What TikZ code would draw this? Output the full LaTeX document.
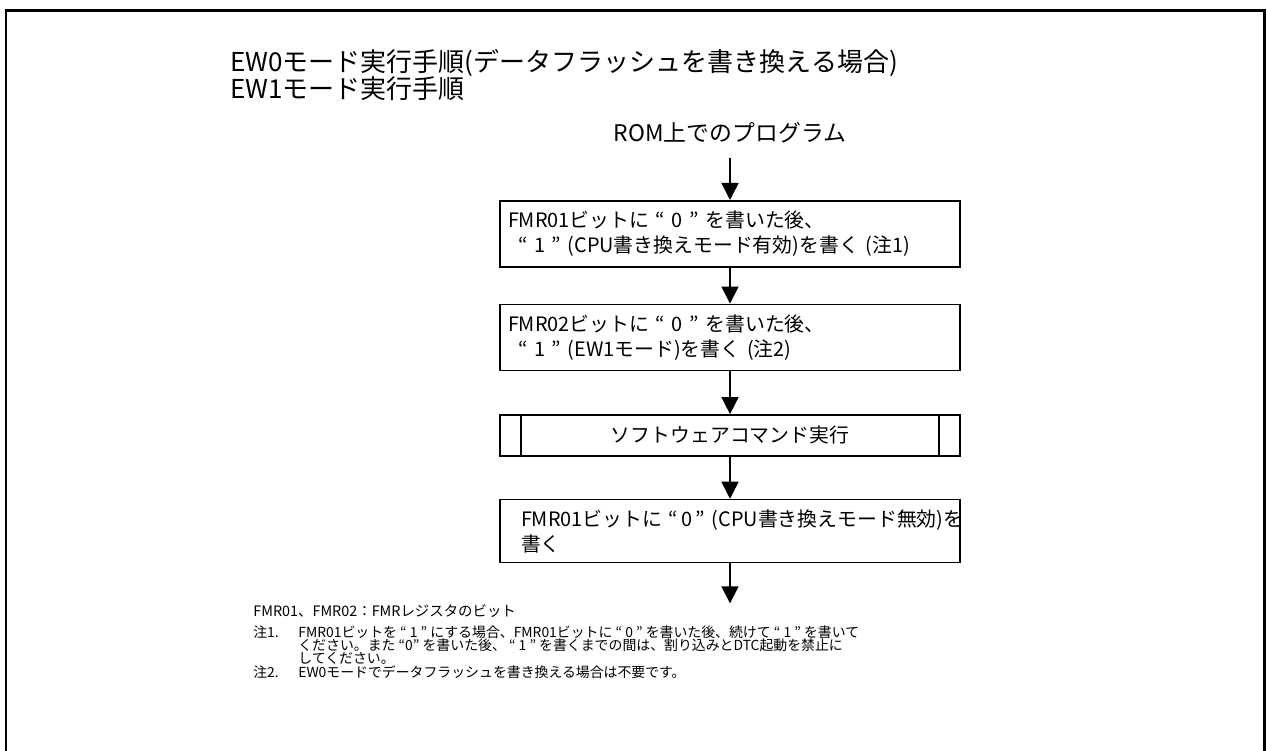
\documentclass[tikz,border=0pt]{standalone}
\usepackage{fontspec}
\setmainfont{Noto Sans CJK JP}
\usetikzlibrary{arrows.meta, positioning}
\tikzset{
    box/.style={draw, line width=0.9pt, fill=white, align=left, text width=8.88cm, inner xsep=0.16cm, font=\fontsize{11.3}{14.2}\selectfont},
    procbox/.style={box, align=center, minimum height=0.82cm},
    arrow/.style={-{Triangle[width=0.34cm, length=0.34cm]}, line width=0.85pt},
    note/.style={align=left, anchor=west, inner sep=0pt, font=\fontsize{7.9}{7.6}\selectfont}
}

\begin{document}
\lineskiplimit=-5pt
\begin{tikzpicture}
    \useasboundingbox (0,0) rectangle (25.34,-15.02);
    \draw [line width=1.7pt] (0.12,-15.1) -- (0.12,-0.21) -- (25.29,-0.21) -- (25.29,-15.1);
    \node [anchor=west, align=left, inner sep=0pt, font=\fontsize{14.8}{15}\selectfont] (title) at (4.6,-1.5) {EW0モード実行手順(データフラッシュを書き換える場合)\\EW1モード実行手順};
    \node [font=\fontsize{13}{15}\selectfont, minimum height=1cm] (rom) at (14.6,-2.66) {ROM上でのプログラム};
    \node [box, anchor=north, minimum height=1.32cm] (fmr1on) at (14.6,-4.0) {FMR01ビットに “ 0 ” を書いた後、\\\hspace*{0.2cm}“ 1 ” (CPU書き換えモード有効)を書く (注1)};
    \node [box, below=0.72cm of fmr1on, minimum height=1.32cm] (fmr2) {FMR02ビットに “ 0 ” を書いた後、\\\hspace*{0.2cm}“ 1 ” (EW1モード)を書く (注2)};
    \node [procbox, below=0.86cm of fmr2] (cmd) {ソフトウェアコマンド実行};
    \node [box, below=0.84cm of cmd, minimum height=1.26cm] (fmr1off) {\hspace*{0.26cm}\mbox{FMR01ビットに “\,0\,” (CPU書き換えモード無効)を}\\\hspace*{0.26cm}書く};
    \coordinate [below=0.8cm of fmr1off] (end);
    \draw [line width=0.9pt] ([xshift=0.44cm]cmd.north west) -- ([xshift=0.44cm]cmd.south west);
    \draw [line width=0.9pt] ([xshift=-0.44cm]cmd.north east) -- ([xshift=-0.44cm]cmd.south east);
    \draw [arrow] (rom) -- (fmr1on);
    \draw [arrow] (fmr1on) -- (fmr2);
    \draw [arrow] (fmr2) -- (cmd);
    \draw [arrow] (cmd) -- (fmr1off);
    \draw [arrow] (fmr1off) -- (end);
    \node [note, font=\fontsize{8.2}{7.6}\selectfont] (regs) at (5.06,-12.22) {FMR01、FMR02：FMRレジスタのビット};
    \node [note] (notes) at (5.06,-13.04) {\makebox[0.9cm][l]{注1.}FMR01ビットを “ 1 ” にする場合、FMR01ビットに “ 0 ” を書いた後、続けて “ 1 ” を書いて\\\hspace*{0.9cm}ください。また “0” を書いた後、 “ 1 ” を書くまでの間は、割り込みとDTC起動を禁止に\\\hspace*{0.9cm}してください。\\\makebox[0.9cm][l]{注2.}EW0モードでデータフラッシュを書き換える場合は不要です。};
\end{tikzpicture}
\end{document}
